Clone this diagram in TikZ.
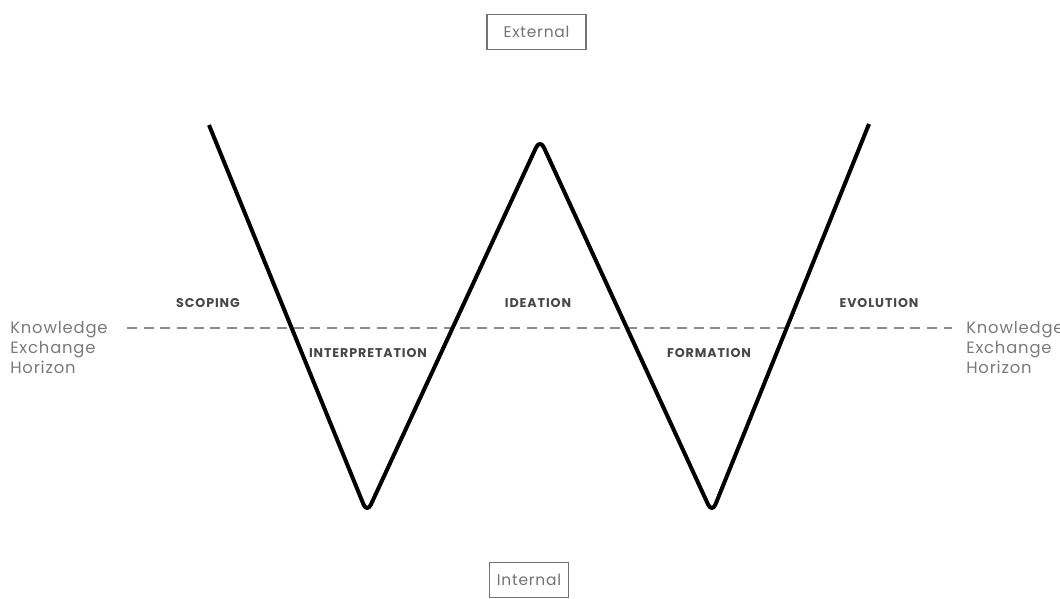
\documentclass[tikz,border=0pt]{standalone}
\usepackage{fontspec}
\setmainfont{Poppins}
\newfontfamily\spacedfont[LetterSpace=7]{Poppins}
\newfontfamily\widefont[LetterSpace=5]{Poppins}
\begin{document}
\begin{tikzpicture}[x=0.75pt,y=-0.75pt,
  phase/.style={font=\spacedfont\bfseries\fontsize{9.5}{11}\selectfont, text=black!72, inner sep=0pt},
  horizon/.style={font=\widefont\fontsize{12.3}{15}\selectfont, text=black!52, align=left, inner sep=0pt, anchor=north west},
  sidebox/.style={draw=black!55, line width=1.1pt, font=\widefont\fontsize{11.6}{13}\selectfont, text=black!55, minimum height=26pt, inner xsep=0pt}]
\useasboundingbox (0,0) rectangle (1060,599);
% W path
\coordinate (p1) at (209,125);
\coordinate (p2) at (367,513);
\coordinate (p3) at (540,139);
\coordinate (p4) at (712,513);
\coordinate (p5) at (869,124);
% dashed horizon
\coordinate (h1) at (127,328);
\coordinate (h2) at (952,328);
\draw[black!45, line width=1.6pt, dash pattern=on 7.5pt off 5pt] (h1) -- (h2);
\draw[line width=3pt, rounded corners=7pt, line join=round] (p1) -- (p2) -- (p3) -- (p4) -- (p5);
% labels
\node[phase] (scoping) at (208,303) {SCOPING};
\node[phase] (interp) at (368,353) {INTERPRETATION};
\node[phase] (ideation) at (538,303) {IDEATION};
\node[phase] (formation) at (709,353) {FORMATION};
\node[phase] (evolution) at (879,303) {EVOLUTION};
\node[horizon] (hl) at (10,321) {Knowledge\\Exchange\\Horizon};
\node[horizon] (hr) at (966,321) {Knowledge\\Exchange\\Horizon};
\node[sidebox, minimum width=74pt] (ext) at (536.5,32) {External};
\node[sidebox, minimum width=59pt] (int) at (529,580) {Internal};
\end{tikzpicture}
\end{document}
